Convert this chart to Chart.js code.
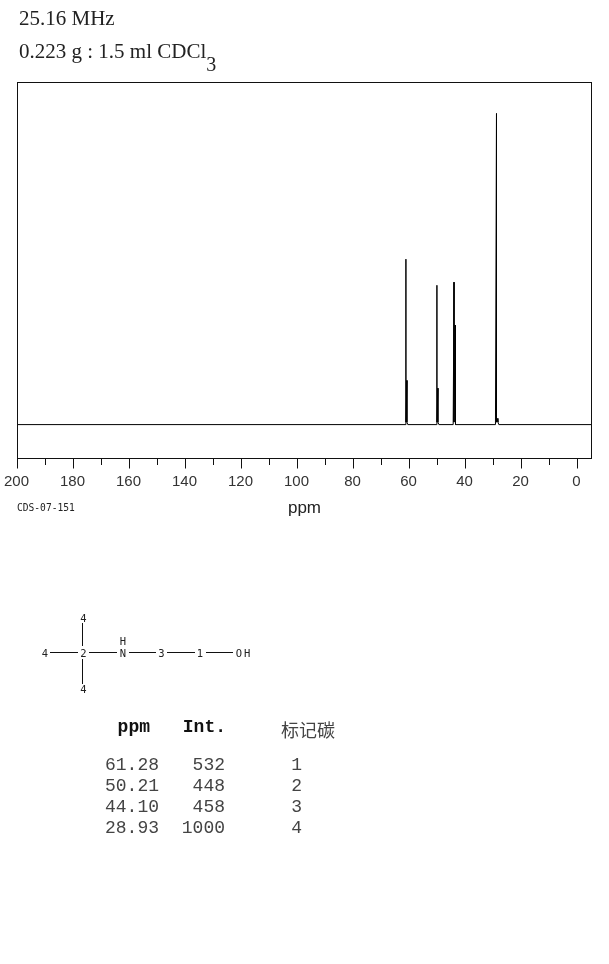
<!DOCTYPE html>
<html>
<head>
<meta charset="utf-8">
<title>25.16 MHz spectrum</title>
<script src="https://cdn.jsdelivr.net/npm/chart.js@4"></script>
<style>
  html, body { margin: 0; background: #fff; }
  #page { position: relative; width: 609px; height: 964px; overflow: hidden; }
  #page > * { position: absolute; }
  canvas { left: 0; top: 0; }
  .head { left: 19px; font: 21px "Liberation Serif", serif; color: #222; white-space: nowrap; filter: grayscale(1); }
  .head sub { font-size: 20px; line-height: 0; vertical-align: -13px; }
  #code { left: 17px; top: 502px; font: 9.6px "DejaVu Sans Mono", monospace; color: #222; filter: grayscale(1); }
  #structure { left: 0; top: 600px; filter: grayscale(1); }
  #structure text { font: 10.5px "DejaVu Sans Mono", monospace; fill: #222; text-anchor: middle; }
  #structure line { stroke: #111; stroke-width: 1; }
  #peakTable { left: 0; top: 0; width: 609px; height: 964px; font: 18px "Liberation Mono", monospace; color: #444; filter: grayscale(1); }
  #peakTable span { position: absolute; white-space: pre; }
  #peakTable .hdr { font-weight: bold; color: #111; }
  #peakTable .cjk { font-family: "Noto Sans CJK SC", sans-serif; color: #444; }
</style>
</head>
<body>
<div id="page">
  <canvas id="spectrum" width="609" height="540"></canvas>
  <div class="head" style="top:6px">25.16 MHz</div>
  <div class="head" style="top:39px">0.223 g : 1.5 ml CDCl<sub>3</sub></div>
  <div id="code">CDS-07-151</div>
  <svg id="structure" width="300" height="100">
    <line x1="50" y1="52.5" x2="78" y2="52.5"/>
    <line x1="89" y1="52.5" x2="117" y2="52.5"/>
    <line x1="129" y1="52.5" x2="156" y2="52.5"/>
    <line x1="167" y1="52.5" x2="195" y2="52.5"/>
    <line x1="206" y1="52.5" x2="233" y2="52.5"/>
    <line x1="82.5" y1="23" x2="82.5" y2="46"/>
    <line x1="82.5" y1="59" x2="82.5" y2="84"/>
    <text x="83.5" y="21.5">4</text>
    <text x="45" y="56.5">4</text>
    <text x="83.5" y="56.5">2</text>
    <text x="83.5" y="92.5">4</text>
    <text x="123" y="45">H</text>
    <text x="123" y="56.5">N</text>
    <text x="161.5" y="56.5">3</text>
    <text x="200" y="56.5">1</text>
    <text x="244" y="56.5" letter-spacing="2">OH</text>
  </svg>
  <div id="peakTable"></div>
</div>
<script>
// values
const peakPpm = ["61.28", "50.21", "44.10", "28.93"];
const peakInt = [532, 448, 458, 1000];
const carbonNo = [1, 2, 3, 4];

// spectrum trace, ppm and intensity, left to right
const traceX = [200, 61.6, 61.28, 61.28, 60.92, 60.92, 60.6, 50.5, 50.21, 50.21, 49.85, 49.85, 49.5, 44.4, 44.1, 44.1, 43.74, 43.74, 43.4, 29.3, 28.93, 28.93, 28.7, 28.4, 28.1, -5];
const traceY = [0, 0, 532, 8, 142, 8, 0, 0, 448, 8, 117, 8, 0, 0, 458, 8, 320, 8, 0, 0, 1000, 8, 20, 8, 0, 0];

// axis ranges and ticks
const ppmLeft = 200;
const ppmRight = -5;
const intMin = -109;
const intMax = 1100;
const majorStep = 20;
const minorStep = 10;

const frame = {
  id: "frame",
  afterDraw(chart) {
    const { ctx, chartArea: a } = chart;
    ctx.save();
    ctx.strokeStyle = "#111";
    ctx.lineWidth = 1;
    ctx.strokeRect(a.left, a.top, a.right - a.left, a.bottom - a.top);
    ctx.restore();
  },
};

new Chart(document.getElementById("spectrum"), {
  type: "line",
  data: {
    datasets: [
      {
        data: traceX.map((x, i) => ({ x: x, y: traceY[i] })),
        borderColor: "#000",
        borderWidth: 1,
        pointRadius: 0,
        tension: 0,
      },
    ],
  },
  options: {
    responsive: false,
    animation: false,
    events: [],
    layout: { padding: { left: 17.5, right: 17.5, top: 82.5, bottom: 21.5 } },
    plugins: { legend: { display: false }, tooltip: { enabled: false } },
    scales: {
      x: {
        type: "linear",
        reverse: true,
        min: ppmRight,
        max: ppmLeft,
        afterFit: (scale) => { scale.height = 60; },
        border: { color: "#111" },
        grid: { drawOnChartArea: false, tickLength: 10, tickColor: "#111" },
        ticks: {
          stepSize: majorStep,
          includeBounds: false,
          autoSkip: false,
          maxRotation: 0,
          padding: 4,
          labelOffset: -1,
          color: "#333",
          font: { family: "Liberation Sans", size: 15 },
        },
        title: {
          display: true,
          text: "ppm",
          color: "#222",
          padding: 0,
          font: { family: "Liberation Sans", size: 17 },
        },
      },
      xMinor: {
        type: "linear",
        axis: "x",
        position: { y: intMin },
        reverse: true,
        min: ppmRight,
        max: ppmLeft,
        border: { display: false },
        grid: { drawOnChartArea: false, tickLength: 6, tickColor: "#111" },
        ticks: { stepSize: minorStep, includeBounds: false, autoSkip: false, display: false },
      },
      y: { display: false, min: intMin, max: intMax },
    },
  },
  plugins: [frame],
});

// peak table under the structure
const tbl = document.getElementById("peakTable");
function put(text, right, top, cls) {
  const s = document.createElement("span");
  s.textContent = text;
  s.style.right = 609 - right + "px";
  s.style.top = top + "px";
  if (cls) s.className = cls;
  tbl.appendChild(s);
}
put("ppm", 150, 717, "hdr");
put("Int.", 226, 717, "hdr");
put("标记碳", 335, 716, "cjk");
peakPpm.forEach((p, i) => {
  const top = 755 + i * 21;
  put(p, 159, top);
  put(String(peakInt[i]), 225, top);
  put(String(carbonNo[i]), 302, top);
});
</script>
</body>
</html>
